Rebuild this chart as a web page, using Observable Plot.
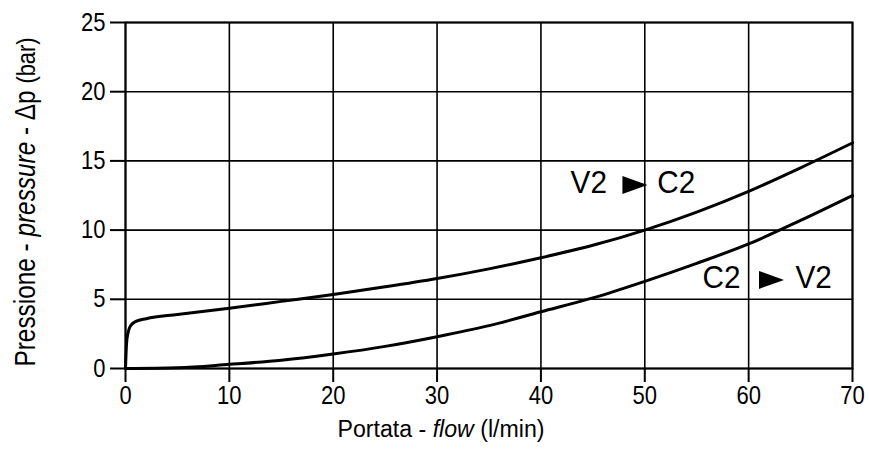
<!DOCTYPE html>
<html><head>
<meta charset="utf-8">
<script src="https://cdn.jsdelivr.net/npm/d3@7"></script>
<script src="https://cdn.jsdelivr.net/npm/@observablehq/plot@0.6"></script>
<style>body{margin:0;background:#fff}</style>
</head><body><div id="chart"></div>
<script>
const flowV2C2 = [0,0.1,0.25,0.5,1,2,5,10,15,20,25,30,35,40,45,50,55,60,65,70];
const presV2C2 = [0,1.8,2.6,3.1,3.4,3.6,3.9,4.35,4.85,5.35,5.9,6.5,7.2,8.0,8.9,10.0,11.3,12.8,14.5,16.3];
const flowC2V2 = [0,5,10,15,20,25,30,35,40,45,50,55,60,65,70];
const presC2V2 = [0,0.05,0.3,0.6,1.05,1.6,2.3,3.1,4.1,5.1,6.3,7.6,9.0,10.7,12.5];
const xTicks = [0,10,20,30,40,50,60,70];
const yTicks = [0,5,10,15,20,25];
const labelText = ["V2","C2","C2","V2"];
const labelX = [42.85,51.2,55.55,64.5];
const labelY = [13.4,13.4,6.55,6.55];
const arrowX = [49.05,62.2];
const arrowY = [13.25,6.4];

const FONT = "'Liberation Sans',Arial,Helvetica,sans-serif";
const s1 = flowV2C2.map((x,i)=>({x, y:presV2C2[i]}));
const s2 = flowC2V2.map((x,i)=>({x, y:presC2V2[i]}));
const labels = labelText.map((t,i)=>({t, x:labelX[i], y:labelY[i]}));
const arrows = arrowX.map((x,i)=>({x, y:arrowY[i]}));
const arrowSymbol = {draw(ctx){ctx.moveTo(-12.5,-9);ctx.lineTo(12.5,0);ctx.lineTo(-12.5,9);ctx.closePath();}};

const chart = Plot.plot({
  width: 869, height: 450,
  marginLeft: 125, marginRight: 17, marginTop: 22, marginBottom: 82,
  style: {fontFamily: FONT, fontSize: "25px", color: "#000", background: "#fff"},
  x: {domain: [0,70], label: null},
  y: {domain: [0,25], label: null},
  marks: [
    Plot.gridX(xTicks, {stroke: "#000", strokeOpacity: 1, strokeWidth: 1.6}),
    Plot.gridY(yTicks, {stroke: "#000", strokeOpacity: 1, strokeWidth: 1.6}),
    Plot.frame({stroke: "#000", strokeWidth: 2}),
    Plot.axisX(xTicks, {tickSize: 14, tickPadding: 4, strokeWidth: 2, fontSize: 25, tickFormat: d=>d}),
    Plot.axisY(yTicks, {tickSize: 15, tickPadding: 5, strokeWidth: 2, fontSize: 25, tickFormat: d=>d}),
    Plot.line(s1, {x:"x", y:"y", curve:"monotone-x", stroke:"#000", strokeWidth:3}),
    Plot.line(s2, {x:"x", y:"y", curve:"monotone-x", stroke:"#000", strokeWidth:3}),
    Plot.text(labels, {x:"x", y:"y", text:"t", textAnchor:"start", lineAnchor:"middle", fontSize:32, fill:"#000"}),
    Plot.dot(arrows, {x:"x", y:"y", symbol: arrowSymbol, fill:"#000", stroke:"none"})
  ]
});
document.getElementById("chart").append(chart);
const svg = d3.select(chart);
// condense tick labels and curve labels slightly, like the reference's narrow typeface
function squeeze(sel, k){
  sel.each(function(){
    const n = this.getComputedTextLength();
    if (n > 0) { this.setAttribute("textLength", (n*k).toFixed(1)); this.setAttribute("lengthAdjust","spacingAndGlyphs"); }
  });
}
squeeze(svg.selectAll('g[aria-label="x-axis tick label"] text, g[aria-label="y-axis tick label"] text'), 0.88);
squeeze(svg.selectAll('g[aria-label="text"] text'), 0.93);

const xl = svg.append("text").attr("x", 441).attr("y", 437).attr("text-anchor","middle")
  .attr("font-size", 23).attr("fill","#000");
xl.append("tspan").text("Portata - ");
xl.append("tspan").attr("font-style","italic").text("flow");
xl.append("tspan").text(" (l/min)");
xl.attr("textLength", 207).attr("lengthAdjust","spacingAndGlyphs");

const yl = svg.append("text").attr("transform","translate(35,202) rotate(-90)").attr("text-anchor","middle")
  .attr("font-size", 29).attr("fill","#000");
yl.append("tspan").text("Pressione - ");
yl.append("tspan").attr("font-style","italic").text("pressure");
yl.append("tspan").text(" - Δp ");
yl.append("tspan").attr("font-size", 26).text("(bar)");
yl.attr("textLength", 329).attr("lengthAdjust","spacingAndGlyphs");
</script>
</body></html>
